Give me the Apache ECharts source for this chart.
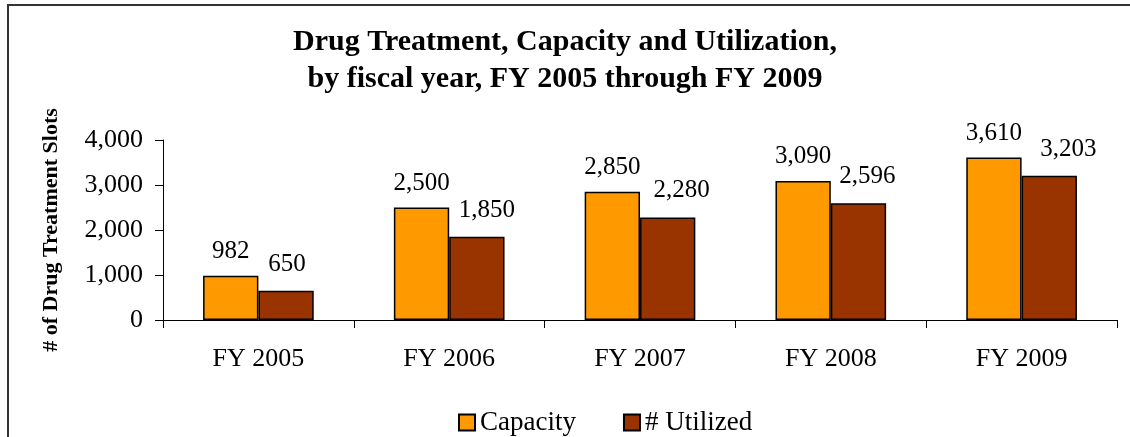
<!DOCTYPE html>
<html>
<head>
<meta charset="utf-8">
<script src="https://cdn.jsdelivr.net/npm/echarts@6/dist/echarts.min.js"></script>
<style>
  html, body { margin: 0; padding: 0; background: #fff; }
  #frame { position: absolute; left: 7px; top: 4px; width: 1130px; height: 440px;
           border-left: 2px solid #333; border-top: 2px solid #333; }
  #chart { position: absolute; left: 0; top: 0; width: 1130px; height: 437px; }
</style>
</head>
<body>
<div id="frame"></div>
<div id="chart"></div>
<script>
// ===== 数据 =====
const years = ['FY 2005', 'FY 2006', 'FY 2007', 'FY 2008', 'FY 2009']
const capacity = [982, 2500, 2850, 3090, 3610]
const utilized = [650, 1850, 2280, 2596, 3203]
const yTicks = [0, 1000, 2000, 3000, 4000]
// Excel nudged the utilized labels to the right to keep them clear
const utilizedLabelShift = [1, 10, 14, 9, 19]

const FONT = '"Liberation Serif", "Times New Roman", serif'
const fmt = (v) => Number(v).toLocaleString('en-US')

const chart = echarts.init(document.getElementById('chart'), null, { renderer: 'canvas' })

const labelStyle = {
  show: true,
  position: 'top',
  distance: 12,
  fontFamily: FONT,
  fontSize: 25,
  color: '#000',
  formatter: (p) => fmt(p.value),
}

chart.setOption({
  animation: false,
  title: {
    text: 'Drug Treatment, Capacity and Utilization,\nby fiscal year, FY 2005 through FY 2009',
    left: 'center',
    top: 24,
    padding: [0, 0, 0, 16],
    textStyle: {
      fontFamily: FONT,
      fontWeight: 'bold',
      fontSize: 30,
      lineHeight: 37,
      color: '#000',
      align: 'center',
    },
  },
  legend: {
    left: 453,
    top: 404,
    itemWidth: 16,
    itemHeight: 16,
    itemGap: 47,
    icon: 'rect',
    textStyle: { fontFamily: FONT, fontSize: 27, color: '#000' },
    data: ['Capacity', '# Utilized'],
  },
  grid: { left: 163, right: 13, top: 140, bottom: 117 },
  xAxis: {
    type: 'category',
    data: years,
    axisLine: { lineStyle: { color: '#000', width: 1 } },
    axisTick: { show: true, length: 8, lineStyle: { color: '#000' } },
    axisLabel: { fontFamily: FONT, fontSize: 26, color: '#000', margin: 26 },
  },
  yAxis: {
    type: 'value',
    min: 0,
    max: 4000,
    interval: 1000,
    name: '# of Drug Treatment Slots',
    nameLocation: 'middle',
    nameGap: 101,
    nameTextStyle: { fontFamily: FONT, fontWeight: 'bold', fontSize: 22, color: '#000' },
    axisLine: { show: true, lineStyle: { color: '#000', width: 1 } },
    axisTick: { show: true, length: 8, lineStyle: { color: '#000' } },
    splitLine: { show: false },
    axisLabel: {
      fontFamily: FONT, fontSize: 26, color: '#000', margin: 20,
      formatter: (v) => yTicks.includes(v) ? fmt(v) : '',
    },
  },
  series: [
    {
      name: 'Capacity',
      type: 'bar',
      data: capacity,
      barGap: '0%',
      barCategoryGap: '42%',
      itemStyle: { color: '#FF9900', borderColor: '#000', borderWidth: 1.5 },
      label: labelStyle,
    },
    {
      name: '# Utilized',
      type: 'bar',
      data: utilized.map((v, i) => ({
        value: v,
        label: { offset: [utilizedLabelShift[i], -2] },
      })),
      itemStyle: { color: '#993300', borderColor: '#000', borderWidth: 1.5 },
      label: labelStyle,
    },
  ],
})
</script>
</body>
</html>
